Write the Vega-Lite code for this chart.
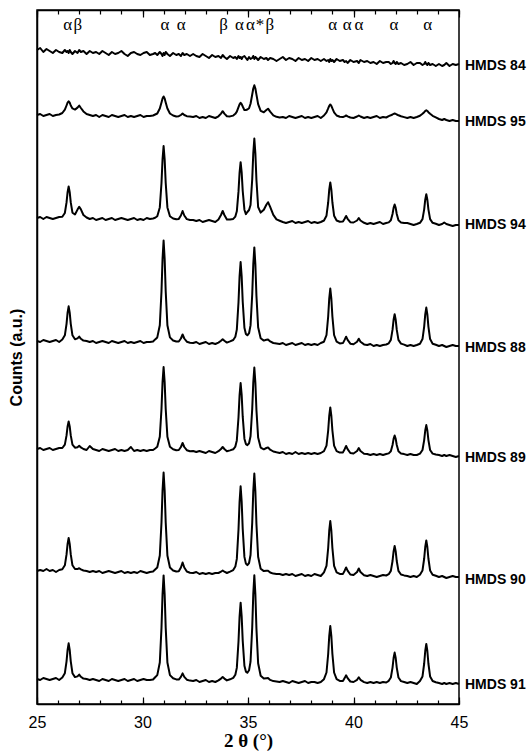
{
"$schema":"https://vega.github.io/schema/vega-lite/v6.json",
"width":422,"height":694,
"autosize":{"type":"none"},
"padding":{"left":37,"top":10,"right":73,"bottom":49},
"background":"white",
"config":{"view":{"stroke":"black","strokeWidth":1.5},"axis":{"domainColor":"black","domainWidth":1.5,"tickColor":"black","tickWidth":1.2,"labelColor":"black","titleColor":"black","grid":false}},
"datasets":{
"xrd":[
{"tt":25.0,"s84":654,"s95":589,"s94":486,"s88":363,"s89":255,"s90":133,"s91":25},
{"tt":25.15,"s84":656,"s95":590,"s94":487,"s88":362,"s89":256,"s90":134,"s91":24},
{"tt":25.3,"s84":652,"s95":588,"s94":485,"s88":364,"s89":254,"s90":133,"s91":26},
{"tt":25.45,"s84":655,"s95":589,"s94":487,"s88":363,"s89":255,"s90":135,"s91":25},
{"tt":25.6,"s84":653,"s95":590,"s94":486,"s88":362,"s89":256,"s90":133,"s91":24},
{"tt":25.75,"s84":651,"s95":588,"s94":485,"s88":363,"s89":254,"s90":134,"s91":25},
{"tt":25.9,"s84":654,"s95":589,"s94":486,"s88":364,"s89":255,"s90":132,"s91":26},
{"tt":26.05,"s84":652,"s95":589.5,"s94":487,"s88":362,"s89":256,"s90":134,"s91":24},
{"tt":26.2,"s84":651,"s95":591,"s94":487.2,"s88":364.5,"s89":256,"s90":134.8,"s91":26.5},
{"tt":26.32,"s84":654,"s95":594.3,"s94":491,"s88":368.7,"s89":259.4,"s90":138.7,"s91":30.8},
{"tt":26.4,"s84":652,"s95":598.5,"s94":501.6,"s88":380.2,"s89":268.6,"s90":149.6,"s91":42.7},
{"tt":26.45,"s84":653,"s95":601.3,"s94":511.8,"s88":391.4,"s89":277.6,"s90":160.1,"s91":54.2},
{"tt":26.5,"s84":651,"s95":602.7,"s94":517.6,"s88":397.7,"s89":282.6,"s90":166.1,"s91":60.7},
{"tt":26.55,"s84":654,"s95":601.3,"s94":511.8,"s88":391.4,"s89":277.6,"s90":160.1,"s91":54.2},
{"tt":26.6,"s84":652,"s95":598.5,"s94":501.6,"s88":380.2,"s89":268.6,"s90":149.6,"s91":42.7},
{"tt":26.68,"s84":650,"s95":595.6,"s94":491.3,"s88":368.7,"s89":259.4,"s90":138.7,"s91":30.8},
{"tt":26.8,"s84":653,"s95":594.4,"s94":489.5,"s88":364.8,"s89":256.3,"s90":135,"s91":26.9},
{"tt":26.92,"s84":651,"s95":596.4,"s94":494.4,"s88":365.6,"s89":256.8,"s90":134.9,"s91":27.6},
{"tt":27.0,"s84":654,"s95":598.4,"s94":497.2,"s88":367.4,"s89":258.2,"s90":135.8,"s91":29.4},
{"tt":27.08,"s84":652,"s95":596,"s94":494.6,"s88":365.2,"s89":256.6,"s90":134.6,"s91":27.2},
{"tt":27.2,"s84":653,"s95":592.6,"s94":489,"s88":363.4,"s89":255,"s90":133.5,"s91":25.4},
{"tt":27.35,"s84":650,"s95":590,"s94":486.5,"s88":363,"s89":254,"s90":133,"s91":25},
{"tt":27.5,"s84":653,"s95":589,"s94":485,"s88":362,"s89":258,"s90":132,"s91":24},
{"tt":27.65,"s84":651,"s95":588,"s94":486,"s88":363,"s89":255,"s90":133,"s91":25},
{"tt":27.8,"s84":652,"s95":589,"s94":484,"s88":361,"s89":254,"s90":132,"s91":24},
{"tt":27.95,"s84":650,"s95":587,"s94":485,"s88":362,"s89":253,"s90":133,"s91":23},
{"tt":28.1,"s84":653,"s95":589,"s94":486,"s88":363,"s89":255,"s90":131,"s91":25},
{"tt":28.25,"s84":651,"s95":588,"s94":484,"s88":362,"s89":254,"s90":132,"s91":24},
{"tt":28.4,"s84":649,"s95":587,"s94":485,"s88":361,"s89":253,"s90":133,"s91":23},
{"tt":28.55,"s84":652,"s95":589,"s94":486,"s88":363,"s89":254,"s90":132,"s91":25},
{"tt":28.7,"s84":650,"s95":588,"s94":484,"s88":362,"s89":255,"s90":131,"s91":24},
{"tt":28.85,"s84":651,"s95":587,"s94":485,"s88":361,"s89":253,"s90":132,"s91":23},
{"tt":29.0,"s84":653,"s95":588,"s94":486,"s88":362,"s89":254,"s90":133,"s91":24},
{"tt":29.15,"s84":650,"s95":589,"s94":485,"s88":363,"s89":253,"s90":131,"s91":25},
{"tt":29.3,"s84":648,"s95":587,"s94":484,"s88":361,"s89":254,"s90":132,"s91":23},
{"tt":29.45,"s84":651,"s95":588,"s94":485,"s88":362,"s89":257,"s90":131,"s91":24},
{"tt":29.6,"s84":652,"s95":587,"s94":486,"s88":361,"s89":253,"s90":132,"s91":25},
{"tt":29.75,"s84":650,"s95":588,"s94":484,"s88":362,"s89":254,"s90":131,"s91":23},
{"tt":29.9,"s84":649,"s95":589,"s94":485,"s88":363,"s89":253,"s90":133,"s91":24},
{"tt":30.05,"s84":651,"s95":587,"s94":484,"s88":361,"s89":254,"s90":132,"s91":25},
{"tt":30.2,"s84":652,"s95":588,"s94":486,"s88":362,"s89":253,"s90":131,"s91":24},
{"tt":30.35,"s84":649,"s95":588,"s94":485,"s88":362,"s89":254,"s90":132,"s91":24},
{"tt":30.5,"s84":650,"s95":588.5,"s94":485.5,"s88":362.5,"s89":254,"s90":132.5,"s91":24.5},
{"tt":30.6,"s84":651,"s95":589.5,"s94":486.2,"s88":364.6,"s89":255.5,"s90":134.5,"s91":26.8},
{"tt":30.7,"s84":649,"s95":590.5,"s94":487.7,"s88":366.6,"s89":257.2,"s90":136.5,"s91":28.9},
{"tt":30.82,"s84":652,"s95":595.5,"s94":496.6,"s88":378.8,"s89":267.3,"s90":148.5,"s91":41.5},
{"tt":30.9,"s84":650,"s95":601.5,"s94":521,"s88":412.5,"s89":295,"s90":181.5,"s91":76.1},
{"tt":30.95,"s84":648,"s95":605.5,"s94":544.7,"s88":445.1,"s89":321.9,"s90":213.5,"s91":109.7},
{"tt":31.0,"s84":651,"s95":607.5,"s94":558,"s88":463.5,"s89":337,"s90":231.5,"s91":128.6},
{"tt":31.05,"s84":649,"s95":605.5,"s94":544.7,"s88":445.1,"s89":321.9,"s90":213.5,"s91":109.7},
{"tt":31.1,"s84":652,"s95":601.5,"s94":521,"s88":412.5,"s89":295,"s90":181.5,"s91":76.1},
{"tt":31.18,"s84":650,"s95":595.5,"s94":496.6,"s88":378.8,"s89":267.3,"s90":148.5,"s91":41.5},
{"tt":31.3,"s84":648,"s95":590.5,"s94":487.7,"s88":366.6,"s89":257.2,"s90":136.5,"s91":28.9},
{"tt":31.45,"s84":651,"s95":588.5,"s94":485.5,"s88":363.5,"s89":254.7,"s90":133.5,"s91":25.7},
{"tt":31.6,"s84":649,"s95":587.5,"s94":484.7,"s88":362.5,"s89":253.8,"s90":132.5,"s91":24.6},
{"tt":31.72,"s84":650,"s95":587.8,"s94":485.1,"s88":362.5,"s89":254,"s90":132.7,"s91":24.4},
{"tt":31.82,"s84":648,"s95":589,"s94":488.5,"s88":365.5,"s89":257,"s90":136.5,"s91":27.1},
{"tt":31.9,"s84":651,"s95":590.5,"s94":493,"s88":369.5,"s89":261,"s90":141.5,"s91":30.6},
{"tt":31.98,"s84":649,"s95":589,"s94":488.5,"s88":365.5,"s89":257,"s90":136.5,"s91":27.1},
{"tt":32.1,"s84":650,"s95":587.8,"s94":484.9,"s88":362.3,"s89":253.8,"s90":132.5,"s91":24.3},
{"tt":32.25,"s84":648,"s95":587.5,"s94":484,"s88":361.3,"s89":252.8,"s90":131.3,"s91":23.4},
{"tt":32.4,"s84":650,"s95":587,"s94":484,"s88":361,"s89":253,"s90":131,"s91":23},
{"tt":32.55,"s84":648,"s95":588,"s94":483,"s88":362,"s89":252,"s90":132,"s91":24},
{"tt":32.7,"s84":647,"s95":586,"s94":484,"s88":360,"s89":253,"s90":130,"s91":22},
{"tt":32.85,"s84":650,"s95":587,"s94":482,"s88":361,"s89":252,"s90":131,"s91":23},
{"tt":33.0,"s84":648,"s95":586,"s94":483,"s88":362,"s89":251,"s90":130,"s91":24},
{"tt":33.15,"s84":646,"s95":588,"s94":484,"s88":360,"s89":253,"s90":131,"s91":22},
{"tt":33.3,"s84":649,"s95":587,"s94":483,"s88":361,"s89":252,"s90":130,"s91":23},
{"tt":33.45,"s84":647,"s95":586,"s94":482,"s88":360,"s89":251,"s90":131,"s91":22},
{"tt":33.6,"s84":648,"s95":587.7,"s94":484.5,"s88":361.4,"s89":252.8,"s90":131,"s91":23.6},
{"tt":33.72,"s84":646,"s95":590.4,"s94":489,"s88":363.2,"s89":255,"s90":132.3,"s91":25.4},
{"tt":33.8,"s84":649,"s95":592.8,"s94":493,"s88":364.8,"s89":257,"s90":133.5,"s91":27},
{"tt":33.88,"s84":647,"s95":590.4,"s94":489,"s88":363.2,"s89":255,"s90":132.3,"s91":25.4},
{"tt":34.0,"s84":645,"s95":587.7,"s94":484.5,"s88":361.4,"s89":252.8,"s90":131,"s91":23.6},
{"tt":34.15,"s84":648,"s95":587.6,"s94":484.5,"s88":362.6,"s89":253.6,"s90":132.4,"s91":24.7},
{"tt":34.3,"s84":646,"s95":588.4,"s94":485.1,"s88":364,"s89":254.7,"s90":133.9,"s91":26.1},
{"tt":34.4,"s84":647,"s95":590.2,"s94":487.4,"s88":367.2,"s89":257.4,"s90":137.4,"s91":29.2},
{"tt":34.47,"s84":645,"s95":592.3,"s94":492.7,"s88":374.4,"s89":263.6,"s90":145.1,"s91":36.1},
{"tt":34.55,"s84":648,"s95":596.8,"s94":512.6,"s88":401.7,"s89":286.8,"s90":174.5,"s91":62.5},
{"tt":34.6,"s84":646,"s95":599.6,"s94":531.2,"s88":427.4,"s89":308.6,"s90":202,"s91":87.2},
{"tt":34.65,"s84":647,"s95":601.2,"s94":541.8,"s88":441.9,"s89":321,"s90":217.7,"s91":101.3},
{"tt":34.7,"s84":645,"s95":599.9,"s94":531.6,"s88":427.8,"s89":309.1,"s90":202.5,"s91":87.7},
{"tt":34.75,"s84":647,"s95":597.5,"s94":513,"s88":402.2,"s89":287.3,"s90":175,"s91":63.1},
{"tt":34.83,"s84":648,"s95":593.9,"s94":494.3,"s88":376.3,"s89":265.3,"s90":147.1,"s91":38.2},
{"tt":34.9,"s84":646,"s95":594,"s94":489.9,"s88":370.1,"s89":259.9,"s90":140.4,"s91":32.4},
{"tt":34.97,"s84":644,"s95":594.5,"s94":492,"s88":368.7,"s89":258.9,"s90":138.9,"s91":31.2},
{"tt":35.05,"s84":647,"s95":595.8,"s94":494,"s88":370.8,"s89":260.7,"s90":141,"s91":33.7},
{"tt":35.12,"s84":645,"s95":600.2,"s94":499,"s88":378.6,"s89":267.7,"s90":149,"s91":42.3},
{"tt":35.2,"s84":646,"s95":609.5,"s94":524.7,"s88":409.5,"s89":295,"s90":181.3,"s91":76.6},
{"tt":35.25,"s84":648,"s95":615.5,"s94":550.7,"s88":439.6,"s89":321.5,"s90":212.7,"s91":109.9},
{"tt":35.3,"s84":645,"s95":618.7,"s94":565.4,"s88":456.6,"s89":336.5,"s90":230.4,"s91":128.7},
{"tt":35.35,"s84":647,"s95":615.5,"s94":550.5,"s88":439.4,"s89":321.3,"s90":212.5,"s91":109.7},
{"tt":35.4,"s84":646,"s95":609.3,"s94":524,"s88":408.2,"s89":294,"s90":180,"s91":75.4},
{"tt":35.48,"s84":644,"s95":599.9,"s94":497,"s88":376.8,"s89":266.4,"s90":147.2,"s91":40.8},
{"tt":35.6,"s84":647,"s95":593.1,"s94":491.4,"s88":365.7,"s89":256.4,"s90":135.3,"s91":28.2},
{"tt":35.75,"s84":645,"s95":591.8,"s94":494.3,"s88":363.4,"s89":254.7,"s90":132.9,"s91":25.4},
{"tt":35.87,"s84":646,"s95":594,"s94":499.3,"s88":364.2,"s89":256,"s90":133.3,"s91":25.8},
{"tt":35.95,"s84":644,"s95":595.3,"s94":501.8,"s88":364.4,"s89":256.6,"s90":133.2,"s91":25.9},
{"tt":36.05,"s84":646,"s95":592.3,"s94":497.1,"s88":362.6,"s89":254.3,"s90":131.5,"s91":24.1},
{"tt":36.2,"s84":645,"s95":588.7,"s94":489.1,"s88":361,"s89":252.5,"s90":130.4,"s91":22.9},
{"tt":36.35,"s84":643,"s95":587.2,"s94":484.6,"s88":360.5,"s89":251.7,"s90":130,"s91":22.6},
{"tt":36.5,"s84":645,"s95":586.5,"s94":483.3,"s88":360,"s89":251,"s90":130,"s91":22},
{"tt":36.65,"s84":647,"s95":587,"s94":482,"s88":361,"s89":252,"s90":129,"s91":23},
{"tt":36.8,"s84":644,"s95":586,"s94":481,"s88":359,"s89":250,"s90":130,"s91":22},
{"tt":36.95,"s84":646,"s95":588,"s94":482,"s88":360,"s89":251,"s90":129,"s91":21},
{"tt":37.1,"s84":645,"s95":587,"s94":483,"s88":361,"s89":250,"s90":130,"s91":23},
{"tt":37.25,"s84":643,"s95":586,"s94":481,"s88":359,"s89":252,"s90":128,"s91":22},
{"tt":37.4,"s84":646,"s95":587,"s94":482,"s88":360,"s89":250,"s90":129,"s91":21},
{"tt":37.55,"s84":644,"s95":588,"s94":481,"s88":361,"s89":251,"s90":130,"s91":22},
{"tt":37.7,"s84":645,"s95":586,"s94":482,"s88":359,"s89":250,"s90":128,"s91":23},
{"tt":37.85,"s84":643,"s95":587,"s94":483,"s88":360,"s89":251,"s90":129,"s91":21},
{"tt":38.0,"s84":646,"s95":586,"s94":481,"s88":359,"s89":250,"s90":128,"s91":22},
{"tt":38.15,"s84":644,"s95":587,"s94":482,"s88":360,"s89":251,"s90":130,"s91":22},
{"tt":38.3,"s84":645,"s95":588,"s94":481,"s88":359,"s89":250,"s90":129,"s91":21},
{"tt":38.45,"s84":643,"s95":586,"s94":482,"s88":361,"s89":251,"s90":128,"s91":22},
{"tt":38.6,"s84":645,"s95":588.5,"s94":483.5,"s88":362.3,"s89":252.8,"s90":131.7,"s91":24.8},
{"tt":38.72,"s84":643,"s95":591.7,"s94":488.3,"s88":369,"s89":258.3,"s90":138.2,"s91":31.5},
{"tt":38.8,"s84":644,"s95":595.6,"s94":501.5,"s88":387.5,"s89":273.5,"s90":156,"s91":50},
{"tt":38.85,"s84":642,"s95":598.2,"s94":514.3,"s88":405.4,"s89":288.2,"s90":173.3,"s91":67.9},
{"tt":38.9,"s84":645,"s95":599.5,"s94":521.5,"s88":415.5,"s89":296.5,"s90":183,"s91":78},
{"tt":38.95,"s84":643,"s95":598.2,"s94":514.3,"s88":405.4,"s89":288.2,"s90":173.3,"s91":67.9},
{"tt":39.0,"s84":644,"s95":595.6,"s94":501.5,"s88":387.5,"s89":273.5,"s90":156,"s91":50},
{"tt":39.08,"s84":642,"s95":591.7,"s94":488.3,"s88":369,"s89":258.3,"s90":138.2,"s91":31.5},
{"tt":39.2,"s84":645,"s95":588.5,"s94":483.5,"s88":362.3,"s89":252.8,"s90":131.7,"s91":24.8},
{"tt":39.35,"s84":643,"s95":587.2,"s94":482.3,"s88":360.6,"s89":251.4,"s90":130.1,"s91":23.1},
{"tt":39.5,"s84":644,"s95":587,"s94":482.4,"s88":360.9,"s89":251.6,"s90":130.1,"s91":23.1},
{"tt":39.58,"s84":642,"s95":587.7,"s94":485.2,"s88":364.1,"s89":254.8,"s90":133.3,"s91":25.9},
{"tt":39.65,"s84":643,"s95":588.5,"s94":488,"s88":367.3,"s89":258,"s90":136.5,"s91":28.7},
{"tt":39.72,"s84":641,"s95":587.7,"s94":485.2,"s88":364.1,"s89":254.8,"s90":133.3,"s91":25.9},
{"tt":39.85,"s84":644,"s95":586.5,"s94":481.8,"s88":360.3,"s89":251,"s90":129.5,"s91":22.5},
{"tt":40.0,"s84":642,"s95":586,"s94":481.5,"s88":359.8,"s89":250.5,"s90":128.9,"s91":22},
{"tt":40.17,"s84":643,"s95":587.5,"s94":483.5,"s88":362.3,"s89":253,"s90":132,"s91":24.2},
{"tt":40.25,"s84":641,"s95":588.5,"s94":486,"s88":365.3,"s89":256,"s90":135.5,"s91":26.7},
{"tt":40.33,"s84":644,"s95":587.5,"s94":483.5,"s88":362.3,"s89":253,"s90":132,"s91":24.2},
{"tt":40.5,"s84":642,"s95":586,"s94":481.2,"s88":359.6,"s89":250.3,"s90":128.8,"s91":21.9},
{"tt":40.65,"s84":643,"s95":587,"s94":480,"s88":359,"s89":250,"s90":128,"s91":21},
{"tt":40.8,"s84":641,"s95":586,"s94":481,"s88":360,"s89":249,"s90":129,"s91":22},
{"tt":40.95,"s84":642,"s95":587,"s94":480,"s88":358,"s89":250,"s90":128,"s91":21},
{"tt":41.1,"s84":640,"s95":588,"s94":481,"s88":359,"s89":249,"s90":127,"s91":22},
{"tt":41.25,"s84":643,"s95":586,"s94":482,"s88":358,"s89":250,"s90":128,"s91":21},
{"tt":41.4,"s84":641,"s95":587,"s94":480,"s88":359,"s89":249,"s90":129,"s91":22},
{"tt":41.55,"s84":642,"s95":586.5,"s94":481,"s88":359.5,"s89":250,"s90":128.5,"s91":21.5},
{"tt":41.67,"s84":642,"s95":587.9,"s94":481.6,"s88":360.7,"s89":250.6,"s90":129.8,"s91":23.2},
{"tt":41.77,"s84":640,"s95":588.7,"s94":483.7,"s88":364.1,"s89":252.7,"s90":133.1,"s91":26.5},
{"tt":41.85,"s84":641,"s95":589.5,"s94":490,"s88":374.3,"s89":259,"s90":143,"s91":36.4},
{"tt":41.9,"s84":643,"s95":590.1,"s94":496.1,"s88":384.2,"s89":265.1,"s90":152.6,"s91":46},
{"tt":41.95,"s84":641,"s95":590.5,"s94":499.5,"s88":389.8,"s89":268.5,"s90":158,"s91":51.4},
{"tt":42.0,"s84":640,"s95":590.1,"s94":496.1,"s88":384.2,"s89":265.1,"s90":152.6,"s91":46},
{"tt":42.05,"s84":642,"s95":589.5,"s94":490,"s88":374.3,"s89":259,"s90":143,"s91":36.4},
{"tt":42.13,"s84":640,"s95":588.7,"s94":483.7,"s88":364.1,"s89":252.7,"s90":133.1,"s91":26.5},
{"tt":42.25,"s84":641,"s95":587.7,"s94":481.5,"s88":360.4,"s89":250.5,"s90":129.5,"s91":22.9},
{"tt":42.4,"s84":639,"s95":586.9,"s94":480.9,"s88":359.4,"s89":249.9,"s90":128.6,"s91":22},
{"tt":42.55,"s84":640,"s95":586,"s94":481,"s88":358,"s89":249,"s90":128,"s91":21},
{"tt":42.7,"s84":642,"s95":587,"s94":480,"s88":359,"s89":250,"s90":127,"s91":22},
{"tt":42.85,"s84":639,"s95":586,"s94":479,"s88":358,"s89":249,"s90":128,"s91":21},
{"tt":43.0,"s84":641,"s95":587,"s94":480,"s88":359,"s89":249,"s90":127,"s91":20},
{"tt":43.15,"s84":641,"s95":588.2,"s94":481.2,"s88":360.3,"s89":250.4,"s90":129.3,"s91":23},
{"tt":43.27,"s84":639,"s95":590.2,"s94":484.8,"s88":364.9,"s89":254,"s90":133.6,"s91":27.6},
{"tt":43.35,"s84":640,"s95":591.8,"s94":494.7,"s88":377.4,"s89":263.9,"s90":145.5,"s91":40.5},
{"tt":43.4,"s84":642,"s95":593,"s94":504.3,"s88":389.6,"s89":273.5,"s90":157,"s91":53},
{"tt":43.45,"s84":640,"s95":593.8,"s94":509.7,"s88":396.4,"s89":278.9,"s90":163.5,"s91":60},
{"tt":43.5,"s84":639,"s95":593,"s94":504.3,"s88":389.6,"s89":273.5,"s90":157,"s91":53},
{"tt":43.55,"s84":641,"s95":591.8,"s94":494.7,"s88":377.4,"s89":263.9,"s90":145.5,"s91":40.5},
{"tt":43.63,"s84":639,"s95":590.2,"s94":484.8,"s88":364.9,"s89":254,"s90":133.6,"s91":27.6},
{"tt":43.75,"s84":640,"s95":588.2,"s94":481.2,"s88":360.3,"s89":250.4,"s90":129.3,"s91":23},
{"tt":43.9,"s84":638,"s95":586.6,"s94":480.3,"s88":359.2,"s89":249.5,"s90":128.2,"s91":21.8},
{"tt":44.05,"s84":640,"s95":585,"s94":479,"s88":358,"s89":249,"s90":127,"s91":21},
{"tt":44.2,"s84":638,"s95":584,"s94":480,"s88":359,"s89":248,"s90":128,"s91":20},
{"tt":44.3,"s84":639,"s95":585,"s94":481.5,"s88":358,"s89":249,"s90":127,"s91":21},
{"tt":44.4,"s84":641,"s95":584,"s94":480,"s88":357,"s89":248,"s90":126,"s91":20},
{"tt":44.55,"s84":638,"s95":583,"s94":479,"s88":358,"s89":249,"s90":127,"s91":21},
{"tt":44.7,"s84":640,"s95":584,"s94":478,"s88":359,"s89":248,"s90":128,"s91":20},
{"tt":44.85,"s84":639,"s95":583,"s94":479,"s88":358,"s89":247,"s90":127,"s91":21},
{"tt":45.0,"s84":640,"s95":583,"s94":479,"s88":358,"s89":248,"s90":127,"s91":20}
],
"labels":[
{"tt":45,"counts":638,"label":"HMDS 84"},
{"tt":45,"counts":582,"label":"HMDS 95"},
{"tt":45,"counts":479,"label":"HMDS 94"},
{"tt":45,"counts":356,"label":"HMDS 88"},
{"tt":45,"counts":246,"label":"HMDS 89"},
{"tt":45,"counts":124,"label":"HMDS 90"},
{"tt":45,"counts":19,"label":"HMDS 91"}
],
"phases":[
{"tt":26.45,"counts":679,"phase":"α"},
{"tt":26.93,"counts":679,"phase":"β"},
{"tt":31.06,"counts":679,"phase":"α"},
{"tt":31.83,"counts":679,"phase":"α"},
{"tt":33.84,"counts":679,"phase":"β"},
{"tt":34.59,"counts":679,"phase":"α"},
{"tt":35.12,"counts":679,"phase":"α"},
{"tt":35.57,"counts":679,"phase":"*"},
{"tt":36.04,"counts":679,"phase":"β"},
{"tt":39.02,"counts":679,"phase":"α"},
{"tt":39.70,"counts":679,"phase":"α"},
{"tt":40.26,"counts":679,"phase":"α"},
{"tt":41.92,"counts":679,"phase":"α"},
{"tt":43.52,"counts":679,"phase":"α"}
]
},
"layer":[
{"data":{"name":"xrd"},
"transform":[{"fold":["s84","s95","s94","s88","s89","s90","s91"],"as":["sample","counts"]}],
"mark":{"type":"line","color":"black","strokeWidth":2,"strokeJoin":"round"},
"encoding":{
"x":{"field":"tt","type":"quantitative","scale":{"domain":[25,45],"nice":false,"zero":false},
"axis":{"orient":"bottom","values":[25,26,27,28,29,30,31,32,33,34,35,36,37,38,39,40,41,42,43,44,45],"labelExpr":"datum.value % 5 === 0 ? datum.label : ''","tickSize":-4,"labelFontSize":16,"labelFont":"Liberation Sans","labelPadding":14,"labelFlush":false,"labelOverlap":false,"title":"2 θ  (°)","titleFont":"Liberation Serif","titleFontSize":19,"titleFontWeight":"bold","titlePadding":1,"zindex":1}},
"y":{"field":"counts","type":"quantitative","scale":{"domain":[0,694],"nice":false,"zero":false},
"axis":{"orient":"left","ticks":false,"labels":false,"title":"Counts (a.u.)","titleFont":"Liberation Sans","titleFontSize":16,"titleFontWeight":"bold","titlePadding":13}},
"detail":{"field":"sample","type":"nominal"}}},
{"data":{"name":"labels"},
"mark":{"type":"text","align":"left","baseline":"middle","dx":6,"font":"Liberation Sans","fontWeight":"bold","fontSize":14,"color":"black"},
"encoding":{"x":{"field":"tt","type":"quantitative",
"axis":{"orient":"bottom","values":[25,30,35,40,45],"labels":false,"domain":false,"title":null,"tickSize":-7,"zindex":1}},
"y":{"field":"counts","type":"quantitative"},"text":{"field":"label"}}},
{"data":{"name":"phases"},
"mark":{"type":"text","align":"center","baseline":"middle","font":"Liberation Serif","fontSize":17,"color":"black"},
"encoding":{"x":{"field":"tt","type":"quantitative",
"axis":{"orient":"top","values":[25,26,27,28,29,30,31,32,33,34,35,36,37,38,39,40,41,42,43,44,45],"labels":false,"title":null,"tickSize":-4,"zindex":1}},
"y":{"field":"counts","type":"quantitative"},"text":{"field":"phase"}}},
{"data":{"name":"phases"},
"mark":{"type":"text","opacity":0},
"encoding":{"x":{"field":"tt","type":"quantitative",
"axis":{"orient":"top","values":[25,30,35,40,45],"labels":false,"domain":false,"title":null,"tickSize":-7,"zindex":1}},
"y":{"field":"counts","type":"quantitative"},"text":{"field":"phase"}}}
],
"resolve":{"axis":{"x":"independent"}}
}
